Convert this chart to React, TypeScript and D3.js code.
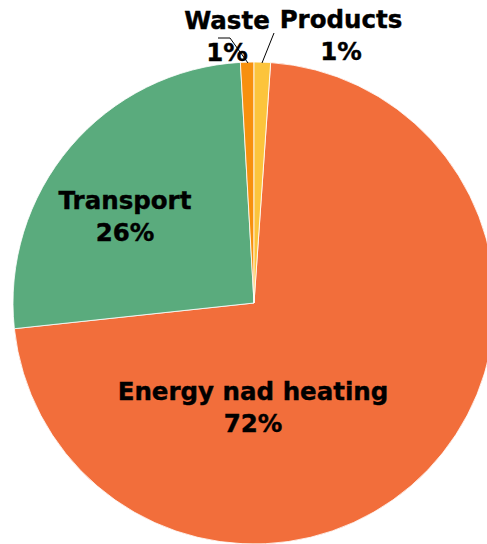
import React, { useEffect, useRef } from 'react';
import * as d3 from 'd3';

const categories = ['Energy nad heating', 'Transport', 'Waste', 'Products'];
const shares = [72.2, 25.8, 0.9, 1.1];
const percentLabels = ['72%', '26%', '1%', '1%'];
const colors = ['#F26E3B', '#5AAB7D', '#F7900E', '#FCC43C'];

// label layout (text centre x, first baseline y) - placed by hand like the original
const labelPos: [number, number][] = [
  [253, 400],
  [125, 209],
  [227, 29],
  [341, 28],
];

const W = 487;
const H = 544;

export default function App() {
  const svgRef = useRef<SVGSVGElement>(null);

  useEffect(() => {
    const svg = d3.select(svgRef.current);
    svg.selectAll('*').remove();

    const cx = 254, cy = 303, r = 241;
    const total = d3.sum(shares);
    // products slice begins at 12 o'clock, energy follows it clockwise
    const offset = (shares[3] / total) * 2 * Math.PI;

    const pie = d3.pie<number>()
      .sort(null)
      .value(d => d)
      .startAngle(offset)
      .endAngle(offset + 2 * Math.PI);
    const arc = d3.arc<d3.PieArcDatum<number>>()
      .innerRadius(0)
      .outerRadius(r);

    const g = svg.append('g').attr('transform', `translate(${cx},${cy})`);
    g.selectAll('path.slice').data(pie(shares))
      .enter()
        .append('path')
          .attr('class', 'slice')
          .attr('d', arc)
          .attr('fill', (d, i) => colors[i])
          .attr('stroke', '#ffffff')
          .attr('stroke-width', 0.8);

    // leader lines for the two tiny slices
    const line = d3.line();
    svg.append('path')
      .attr('d', line([[218, 38], [230, 38], [248, 63]]))
      .attr('fill', 'none')
      .attr('stroke', '#000')
      .attr('stroke-width', 1);
    svg.append('path')
      .attr('d', line([[274, 33], [262, 63]]))
      .attr('fill', 'none')
      .attr('stroke', '#000')
      .attr('stroke-width', 1);

    const labels = svg.selectAll('text.lbl').data(categories)
      .enter()
        .append('text')
          .attr('class', 'lbl')
          .attr('text-anchor', 'middle')
          .attr('font-family', 'DejaVu Sans, sans-serif')
          .attr('font-weight', 'bold')
          .attr('font-size', '24.5px')
          .attr('fill', '#000')
          .attr('stroke', '#000')
          .attr('stroke-width', 0.4);
    labels.append('tspan')
      .attr('x', (d, i) => labelPos[i][0])
      .attr('y', (d, i) => labelPos[i][1])
      .text(d => d);
    labels.append('tspan')
      .attr('x', (d, i) => labelPos[i][0])
      .attr('y', (d, i) => labelPos[i][1] + 32)
      .text((d, i) => percentLabels[i]);
  }, []);

  return (
    <svg ref={svgRef} width={W} height={H}
         style={{ position: 'absolute', left: 0, top: 0, background: '#fff' }} />
  );
}
